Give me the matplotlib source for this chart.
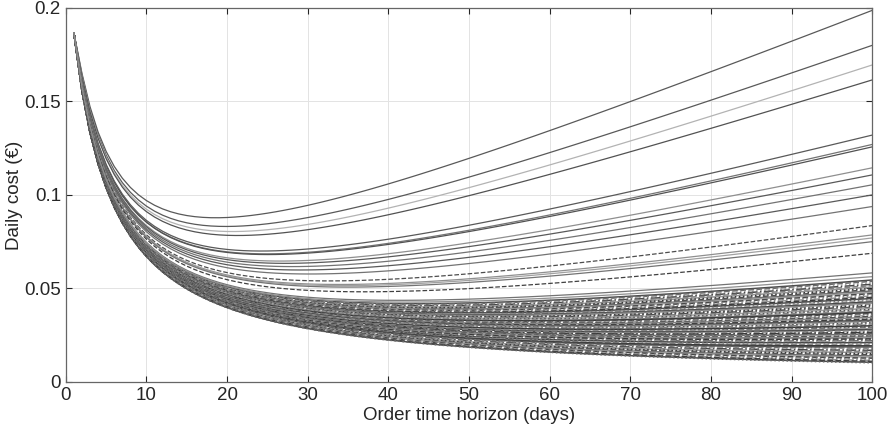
import numpy as np
import matplotlib.pyplot as plt

plt.rcParams['font.family'] = ['Liberation Sans', 'DejaVu Sans']

# Order horizon in days
horizon = np.arange(1, 101)

# Daily cost read at T = 100 for each product (upper, well separated curves)
upper_end = [0.1987, 0.1800, 0.1695, 0.1615, 0.1320, 0.1270, 0.1257, 0.1145,
             0.1107, 0.1054, 0.1000, 0.0938, 0.0836, 0.0786, 0.0770, 0.0750,
             0.0688, 0.0583, 0.0563]
upper_gray = [0.35, 0.35, 0.70, 0.32, 0.35, 0.45, 0.32, 0.56, 0.35, 0.45, 0.35,
              0.45, 0.30, 0.56, 0.63, 0.45, 0.25, 0.45, 0.56]
upper_style = ['-', '-', '-', '-', '-', '-', '-', '-', '-', '-', '-',
               '-', '--', '-', '-', '-', '--', '-', '-']

# Daily cost at T = 100 for the dense lower band
band_end = [0.0545, 0.0538, 0.0530, 0.0522, 0.0515, 0.0507, 0.0500, 0.0493,
            0.0486, 0.0479, 0.0472, 0.0466, 0.0459, 0.0452, 0.0446, 0.0440,
            0.0434, 0.0428, 0.0422, 0.0416, 0.0410, 0.0404, 0.0398, 0.0393,
            0.0387, 0.0382, 0.0376, 0.0371, 0.0366, 0.0360, 0.0355, 0.0350,
            0.0345, 0.0340, 0.0335, 0.0330, 0.0325, 0.0320, 0.0315, 0.0310,
            0.0305, 0.0300, 0.0295, 0.0290, 0.0285, 0.0280, 0.0275, 0.0270,
            0.0265, 0.0260, 0.0255, 0.0250, 0.0245, 0.0240, 0.0235, 0.0230,
            0.0225, 0.0220, 0.0215, 0.0210, 0.0205, 0.0199, 0.0193, 0.0187,
            0.0181, 0.0175, 0.0169, 0.0163, 0.0157, 0.0151, 0.0145, 0.0139,
            0.0133, 0.0127, 0.0121, 0.0115, 0.0110, 0.0105, 0.0102]
band_gray = [0.30, 0.42, 0.62, 0.28, 0.50, 0.58, 0.22]
band_style = ['-', '--', ':', '-.', '--', '-', ':', '--', '-']

# Cost model fitted to the picture: ordering part shared by all products,
# holding part scaled per product
a_order, t_shift, c_floor = 0.905, 3.9, 0.0019
beta, gamma = 0.001745, 0.0159


def base_cost(t):
    return a_order / (t + t_shift) + c_floor


def holding(t):
    return beta * (t - 1) + gamma * (1 - 1 / t)


def cost_curve(end_value):
    w = (end_value - base_cost(100)) / holding(100)
    return base_cost(horizon) + w * holding(horizon)


fig = plt.figure(figsize=(8.9, 4.41), dpi=100)
ax = fig.add_axes([0.074, 0.134, 0.906, 0.848])

for i, v in enumerate(band_end):
    g = band_gray[i % len(band_gray)]
    ax.plot(horizon, cost_curve(v), color=(g, g, g),
            linestyle=band_style[i % len(band_style)], linewidth=1.1)

for v, g, ls in zip(upper_end, upper_gray, upper_style):
    ax.plot(horizon, cost_curve(v), color=(g, g, g), linestyle=ls, linewidth=0.9)

ax.set_xlim(0, 100)
ax.set_ylim(0, 0.2)
ax.set_xticks(np.arange(0, 101, 10))
ax.set_yticks([0, 0.05, 0.1, 0.15, 0.2])
ax.set_yticklabels(['0', '0.05', '0.1', '0.15', '0.2'])
ax.grid(True, color='#e3e3e3', linewidth=0.7)
ax.set_axisbelow(True)
ax.tick_params(direction='in', top=True, right=True, length=4,
               labelsize=13.5, colors='#262626')
for s in ax.spines.values():
    s.set_color('#666666')
    s.set_linewidth(0.9)

ax.set_xlabel('Order time horizon (days)', fontsize=13.5, color='#262626',
              labelpad=2)
ax.set_ylabel('Daily cost (€)', fontsize=13.5, color='#262626', labelpad=1)

plt.savefig('out.png', dpi=100)
